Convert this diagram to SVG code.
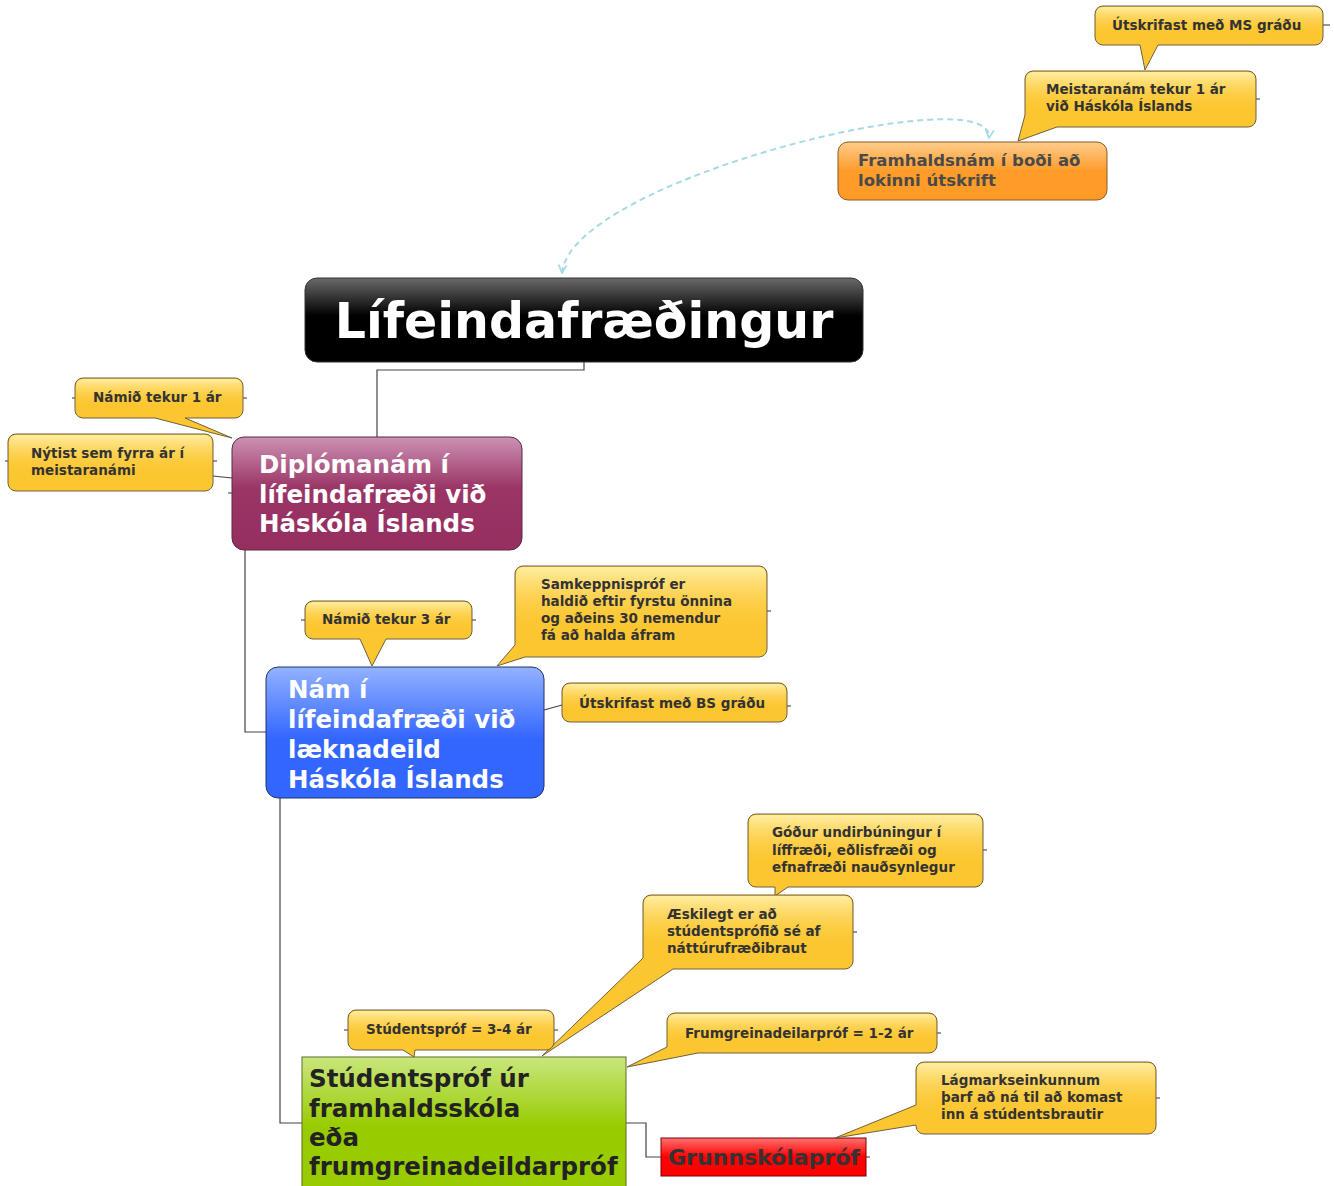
<svg xmlns="http://www.w3.org/2000/svg" width="1334" height="1186" viewBox="0 0 1334 1186">
<style>
text{font-family:"DejaVu Sans","Verdana","Liberation Sans",sans-serif;font-weight:bold}
.cb{fill:#fcc630;stroke:#6e6040;stroke-width:1}
.hl{fill:url(#hl)}
.ct{font-size:13.5px;fill:#333}
.wt{font-size:24.5px;fill:#fff}
.dt{font-size:24.5px;fill:#222}
.ln{fill:none;stroke:#444;stroke-width:1.2}
.st{fill:none;stroke:#333;stroke-width:1}
.dash{fill:none;stroke:#a6dbe4;stroke-width:2;stroke-dasharray:6 4}
</style>
<defs>
<linearGradient id="hl" x1="0" y1="0" x2="0" y2="1">
<stop offset="0" stop-color="#fff0a8" stop-opacity="0.95"/>
<stop offset="0.75" stop-color="#fcc630" stop-opacity="0"/>
</linearGradient>
<linearGradient id="gTitle" x1="0" y1="0" x2="0" y2="1">
<stop offset="0" stop-color="#6a6a6a"/>
<stop offset="0.45" stop-color="#000"/>
<stop offset="1" stop-color="#000"/>
</linearGradient>
<linearGradient id="gPurple" x1="0" y1="0" x2="0" y2="1">
<stop offset="0" stop-color="#cc92b4"/>
<stop offset="0.45" stop-color="#9b3566"/>
<stop offset="1" stop-color="#962e60"/>
</linearGradient>
<linearGradient id="gBlue" x1="0" y1="0" x2="0" y2="1">
<stop offset="0" stop-color="#93b2ff"/>
<stop offset="0.55" stop-color="#3366ff"/>
<stop offset="1" stop-color="#3366ff"/>
</linearGradient>
<linearGradient id="gGreen" x1="0" y1="0" x2="0" y2="1">
<stop offset="0" stop-color="#c9e67e"/>
<stop offset="0.5" stop-color="#99cc00"/>
<stop offset="1" stop-color="#99cc00"/>
</linearGradient>
<linearGradient id="gRed" x1="0" y1="0" x2="0" y2="1">
<stop offset="0" stop-color="#ff7070"/>
<stop offset="0.5" stop-color="#ff0000"/>
<stop offset="1" stop-color="#ff0000"/>
</linearGradient>
<linearGradient id="gOrange" x1="0" y1="0" x2="0" y2="1">
<stop offset="0" stop-color="#ffcc8c"/>
<stop offset="0.5" stop-color="#ff9c2a"/>
<stop offset="1" stop-color="#ff9a26"/>
</linearGradient>
<marker id="chev" viewBox="0 0 10 10" refX="9" refY="5" markerWidth="10" markerHeight="10" markerUnits="userSpaceOnUse" orient="auto-start-reverse">
<path d="M1,1 L9,5 L1,9" fill="none" stroke="#a6dbe4" stroke-width="1.8"/>
</marker>
</defs>

<g id="connectors">
<path class="ln" d="M584,362 V370 H377 V437"/>
<path class="ln" d="M245,550 V732 H266"/>
<path class="ln" d="M280,798 V1123 H302"/>
<path class="ln" d="M626,1123 H646 V1157 H661"/>
<path class="ln" d="M213,476 L232,478"/>
<path class="ln" d="M544,710 L562,705"/>
<path class="dash" d="M562,273 C570,180 995,76 989,138" marker-start="url(#chev)" marker-end="url(#chev)"/>
<path class="st" d="M1323,25 H1330 M1256,99 H1260 M72,398 H75 M243,398 H247 M5,461 H8 M213,461 H217 M228,493 H232 M301,620 H305 M472,620 H476 M767,611 H771 M787,706 H791 M983,850 H987 M853,932 H857 M344,1030 H348 M554,1030 H558 M937,1033 H941 M1156,1098 H1160 M866,1157 H870"/>
</g>

<g id="title">
<rect x="305" y="278" width="558" height="84" rx="12" fill="url(#gTitle)" stroke="#333"/>
<text x="584" y="338" text-anchor="middle" font-size="49" fill="#fff">Lífeindafræðingur</text>
</g>

<g id="diplomanam">
<rect x="232" y="437" width="290" height="113" rx="12" fill="url(#gPurple)" stroke="#5a2a40"/>
<text class="wt" x="259" y="473">Diplómanám í</text>
<text class="wt" x="259" y="503">lífeindafræði við</text>
<text class="wt" x="259" y="532">Háskóla Íslands</text>
</g>

<g id="nam">
<rect x="266" y="667" width="278" height="131" rx="12" fill="url(#gBlue)" stroke="#223366"/>
<text class="wt" x="288" y="698">Nám í</text>
<text class="wt" x="288" y="728">lífeindafræði við</text>
<text class="wt" x="288" y="758">læknadeild</text>
<text class="wt" x="288" y="788">Háskóla Íslands</text>
</g>

<g id="studentsprof">
<rect x="302" y="1057" width="324" height="140" fill="url(#gGreen)" stroke="#5a7020"/>
<text class="dt" x="309" y="1087">Stúdentspróf úr</text>
<text class="dt" x="309" y="1116.5">framhaldsskóla</text>
<text class="dt" x="309" y="1146">eða</text>
<text class="dt" x="309" y="1175">frumgreinadeildarpróf</text>
</g>

<g id="grunnskolaprof">
<rect x="661" y="1138" width="205" height="38" fill="url(#gRed)" stroke="#800000"/>
<text x="668" y="1165" font-size="22" fill="#333">Grunnskólapróf</text>
</g>

<g id="framhaldsnam">
<rect x="838" y="142" width="269" height="58" rx="10" fill="url(#gOrange)" stroke="#8a5a20"/>
<text x="858" y="166" font-size="16.5" fill="#4a4a4a">Framhaldsnám í boði að</text>
<text x="858" y="186" font-size="16.5" fill="#4a4a4a">lokinni útskrift</text>
</g>

<g id="c-ms">
<path class="cb" d="M1103,6 H1315 A8,8 0 0 1 1323,14 V37 A8,8 0 0 1 1315,45 H1158 L1145,70 L1140,45 H1103 A8,8 0 0 1 1095,37 V14 A8,8 0 0 1 1103,6 Z"/>
<rect class="hl" x="1096" y="7" width="226" height="37" rx="7"/>
<text class="ct" x="1112" y="30">Útskrifast með MS gráðu</text>
</g>

<g id="c-meistaranam">
<path class="cb" d="M1033,71 H1248 A8,8 0 0 1 1256,79 V119 A8,8 0 0 1 1248,127 H1057 L1018,141 L1025,115 V79 A8,8 0 0 1 1033,71 Z"/>
<rect class="hl" x="1026" y="72" width="229" height="54" rx="7"/>
<text class="ct" x="1046" y="94">Meistaranám tekur 1 ár</text>
<text class="ct" x="1046" y="111">við Háskóla Íslands</text>
</g>

<g id="c-1ar">
<path class="cb" d="M83,378 H235 A8,8 0 0 1 243,386 V410 A8,8 0 0 1 235,418 H185 L232,438 L155,418 H83 A8,8 0 0 1 75,410 V386 A8,8 0 0 1 83,378 Z"/>
<rect class="hl" x="76" y="379" width="166" height="38" rx="7"/>
<text class="ct" x="93" y="402">Námið tekur 1 ár</text>
</g>

<g id="c-nytist">
<rect class="cb" x="8" y="434" width="205" height="57" rx="8"/>
<rect class="hl" x="9" y="435" width="203" height="55" rx="7"/>
<text class="ct" x="31" y="458">Nýtist sem fyrra ár í</text>
<text class="ct" x="31" y="475">meistaranámi</text>
</g>

<g id="c-3ar">
<path class="cb" d="M313,601 H464 A8,8 0 0 1 472,609 V631 A8,8 0 0 1 464,639 H386 L372,666 L360,639 H313 A8,8 0 0 1 305,631 V609 A8,8 0 0 1 313,601 Z"/>
<rect class="hl" x="306" y="602" width="165" height="36" rx="7"/>
<text class="ct" x="322" y="624">Námið tekur 3 ár</text>
</g>

<g id="c-samkeppni">
<path class="cb" d="M523,566 H759 A8,8 0 0 1 767,574 V649 A8,8 0 0 1 759,657 H525 L497,666 L515,645 V574 A8,8 0 0 1 523,566 Z"/>
<rect class="hl" x="516" y="567" width="250" height="89" rx="7"/>
<text class="ct" x="541" y="589">Samkeppnispróf er</text>
<text class="ct" x="541" y="606">haldið eftir fyrstu önnina</text>
<text class="ct" x="541" y="623">og aðeins 30 nemendur</text>
<text class="ct" x="541" y="640">fá að halda áfram</text>
</g>

<g id="c-bs">
<rect class="cb" x="562" y="683" width="225" height="39" rx="8"/>
<rect class="hl" x="563" y="684" width="223" height="37" rx="7"/>
<text class="ct" x="579" y="708">Útskrifast með BS gráðu</text>
</g>

<g id="c-godur">
<path class="cb" d="M756,814 H975 A8,8 0 0 1 983,822 V879 A8,8 0 0 1 975,887 H788 L775,896 L775,887 H756 A8,8 0 0 1 748,879 V822 A8,8 0 0 1 756,814 Z"/>
<rect class="hl" x="749" y="815" width="233" height="71" rx="7"/>
<text class="ct" x="772" y="837">Góður undirbúningur í</text>
<text class="ct" x="772" y="855">líffræði, eðlisfræði og</text>
<text class="ct" x="772" y="872">efnafræði nauðsynlegur</text>
</g>

<g id="c-aeskilegt">
<path class="cb" d="M651,895 H845 A8,8 0 0 1 853,903 V961 A8,8 0 0 1 845,969 H673 L542,1056 L643,958 V903 A8,8 0 0 1 651,895 Z"/>
<rect class="hl" x="644" y="896" width="208" height="72" rx="7"/>
<text class="ct" x="667" y="919">Æskilegt er að</text>
<text class="ct" x="667" y="936">stúdentsprófið sé af</text>
<text class="ct" x="667" y="953">náttúrufræðibraut</text>
</g>

<g id="c-studentsprof">
<path class="cb" d="M356,1010 H546 A8,8 0 0 1 554,1018 V1042 A8,8 0 0 1 546,1050 H415 L414,1057 L403,1050 H356 A8,8 0 0 1 348,1042 V1018 A8,8 0 0 1 356,1010 Z"/>
<rect class="hl" x="349" y="1011" width="204" height="38" rx="7"/>
<text class="ct" x="366" y="1034">Stúdentspróf = 3-4 ár</text>
</g>

<g id="c-frumgreina">
<path class="cb" d="M675,1013 H929 A8,8 0 0 1 937,1021 V1045 A8,8 0 0 1 929,1053 H698 L627,1067 L667,1047 V1021 A8,8 0 0 1 675,1013 Z"/>
<rect class="hl" x="668" y="1014" width="268" height="38" rx="7"/>
<text class="ct" x="685" y="1038">Frumgreinadeilarpróf = 1-2 ár</text>
</g>

<g id="c-lagmarks">
<path class="cb" d="M924,1062 H1148 A8,8 0 0 1 1156,1070 V1126 A8,8 0 0 1 1148,1134 H924 A8,8 0 0 1 916,1126 V1125 L835,1138 L916,1105 V1070 A8,8 0 0 1 924,1062 Z"/>
<rect class="hl" x="917" y="1063" width="238" height="70" rx="7"/>
<text class="ct" x="941" y="1085">Lágmarkseinkunnum</text>
<text class="ct" x="941" y="1102">þarf að ná til að komast</text>
<text class="ct" x="941" y="1119">inn á stúdentsbrautir</text>
</g>
</svg>
